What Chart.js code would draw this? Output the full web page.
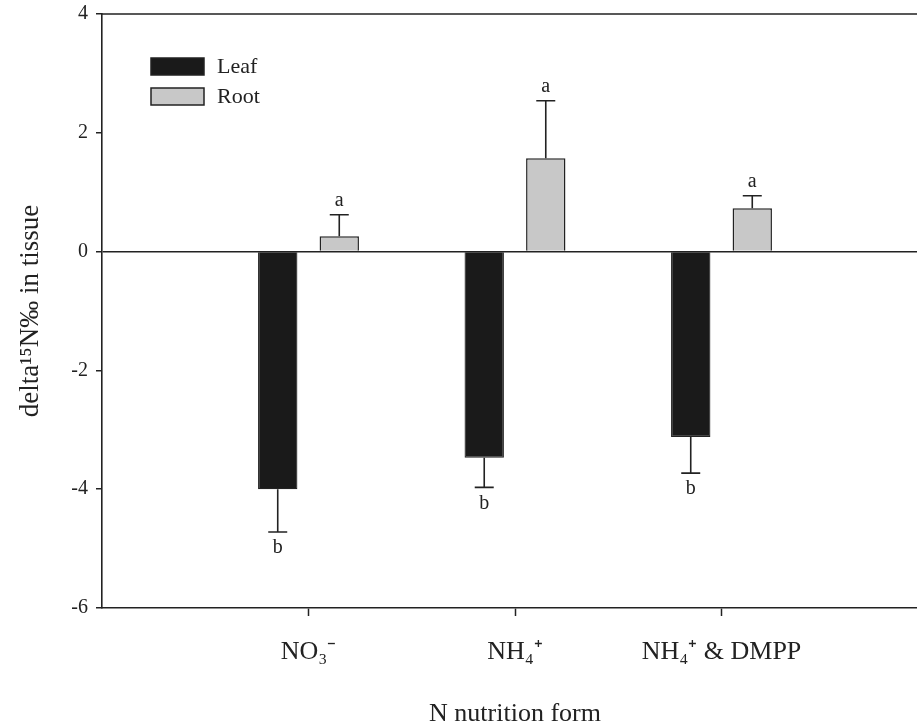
<!DOCTYPE html>
<html>
<head>
<meta charset="utf-8">
<script src="https://cdn.jsdelivr.net/npm/chart.js@4/dist/chart.umd.min.js"></script>
<style>
html, body { margin: 0; padding: 0; background: #fff; overflow: hidden; width: 917px; height: 727px; }
#wrap { width: 949px; height: 727px; position: relative; }
</style>
</head>
<body>
<div id="wrap"><canvas id="c" width="949" height="727"></canvas></div>
<script>
// ---- data ----
const categories = ['NO\u2083\u207B', 'NH\u2084\u207A', 'NH\u2084\u207A & DMPP'];
const seriesNames = ['Leaf', 'Root'];
const leafMeans = [-4.00, -3.47, -3.12];
const leafErrors = [0.72, 0.50, 0.61];
const rootMeans = [0.26, 1.57, 0.73];
const rootErrors = [0.36, 0.97, 0.21];
const leafLetters = ['b', 'b', 'b'];
const rootLetters = ['a', 'a', 'a'];
const yTickValues = [-6, -4, -2, 0, 2, 4];
const yTitle = 'delta\u00B9\u2075N\u2030 in tissue';
const xTitle = 'N nutrition form';

// padded labels so categories sit at 1, 2, 3 of a 0..4 axis
const labels = [''].concat(categories, ['']);
const pad = arr => [null].concat(arr, [null]);

const FONT = '"Liberation Serif", "Times New Roman", serif';
Chart.defaults.font.family = FONT;
Chart.defaults.color = '#222';

const errorPlugin = {
  id: 'errorBars',
  afterDatasetsDraw(chart) {
    const ctx = chart.ctx;
    const yScale = chart.scales.y;
    chart.data.datasets.forEach((ds, di) => {
      const meta = chart.getDatasetMeta(di);
      meta.data.forEach((el, j) => {
        const v = ds.data[j];
        if (v === null || v === undefined) return;
        const err = ds.errors[j];
        const sign = v >= 0 ? 1 : -1;
        const yEnd = yScale.getPixelForValue(v + sign * err);
        const x = el.x;
        ctx.save();
        ctx.strokeStyle = '#222';
        ctx.lineWidth = 1.6;
        ctx.beginPath();
        ctx.moveTo(x, el.y);
        ctx.lineTo(x, yEnd);
        ctx.moveTo(x - 9.5, yEnd);
        ctx.lineTo(x + 9.5, yEnd);
        ctx.stroke();
        ctx.fillStyle = '#222';
        ctx.font = '20px ' + FONT;
        ctx.textAlign = 'center';
        ctx.textBaseline = 'middle';
        const letter = ds.letters[j];
        if (sign > 0) ctx.fillText(letter, x, yEnd - 14);
        else ctx.fillText(letter, x, yEnd + 16);
        ctx.restore();
      });
    });
  }
};

const framePlugin = {
  id: 'frame',
  afterDraw(chart) {
    const a = chart.chartArea;
    const ctx = chart.ctx;
    ctx.save();
    ctx.strokeStyle = '#222';
    ctx.lineWidth = 1.6;
    ctx.beginPath();
    ctx.moveTo(a.left, a.top);
    ctx.lineTo(a.right, a.top);
    ctx.lineTo(a.right, a.bottom);
    ctx.stroke();
    // legend inside plot
    ctx.font = '22px ' + FONT;
    ctx.textBaseline = 'middle';
    ctx.textAlign = 'left';
    chart.data.datasets.forEach((ds, i) => {
      const bx = a.left + 49;
      const by = a.top + 44 + i * 30;
      ctx.fillStyle = ds.backgroundColor;
      ctx.fillRect(bx, by, 53, 17);
      ctx.strokeStyle = '#222';
      ctx.lineWidth = 1.5;
      ctx.strokeRect(bx, by, 53, 17);
      ctx.fillStyle = '#222';
      ctx.fillText(ds.label, bx + 66, by + 9);
    });
    ctx.restore();
  }
};

new Chart(document.getElementById('c'), {
  type: 'bar',
  data: {
    labels: labels,
    datasets: [
      {
        label: seriesNames[0],
        data: pad(leafMeans),
        errors: pad(leafErrors),
        letters: pad(leafLetters),
        backgroundColor: '#1a1a1a',
        borderColor: '#222',
        borderWidth: 1.2,
        categoryPercentage: 0.596,
        barPercentage: 0.64
      },
      {
        label: seriesNames[1],
        data: pad(rootMeans),
        errors: pad(rootErrors),
        letters: pad(rootLetters),
        backgroundColor: '#c8c8c8',
        borderColor: '#222',
        borderWidth: 1.5,
        categoryPercentage: 0.596,
        barPercentage: 0.64
      }
    ]
  },
  options: {
    responsive: false,
    animation: false,
    layout: { padding: { top: 14, left: 0, right: 2, bottom: 0 } },
    plugins: {
      legend: { display: false },
      tooltip: { enabled: false }
    },
    scales: {
      x: {
        offset: false,
        grid: {
          offset: false,
          drawOnChartArea: false,
          drawTicks: true,
          tickLength: 8,
          tickWidth: 1.5,
          tickColor: c => (c.index === 0 || c.index === labels.length - 1) ? 'rgba(0,0,0,0)' : '#222'
        },
        border: { display: true, color: '#222', width: 1.6 },
        ticks: {
          font: { size: 26 },
          color: '#222',
          padding: 21,
          maxRotation: 0,
          autoSkip: false
        },
        title: {
          display: true,
          text: xTitle,
          font: { size: 26, lineHeight: 1 },
          color: '#222',
          padding: { top: 0, bottom: 0 }
        },
        afterFit: s => { s.height = 119; }
      },
      y: {
        min: -6,
        max: 4,
        afterBuildTicks: s => { s.ticks = yTickValues.map(v => ({ value: v })); },
        grid: {
          drawOnChartArea: true,
          drawTicks: true,
          tickLength: 6,
          tickWidth: 1.5,
          lineWidth: 1.5,
          color: c => (c.tick && c.tick.value === 0) ? '#222' : 'rgba(0,0,0,0)',
          tickColor: '#222'
        },
        border: { display: true, color: '#222', width: 1.6 },
        ticks: {
          font: { size: 20, lineHeight: 0.6 },
          color: '#222',
          padding: 8
        },
        title: {
          display: true,
          text: yTitle,
          font: { size: 27, lineHeight: 1 },
          color: '#222',
          padding: { top: 17, bottom: 0 }
        },
        afterFit: s => { s.width = 102; }
      }
    }
  },
  plugins: [errorPlugin, framePlugin]
});
</script>
</body>
</html>
